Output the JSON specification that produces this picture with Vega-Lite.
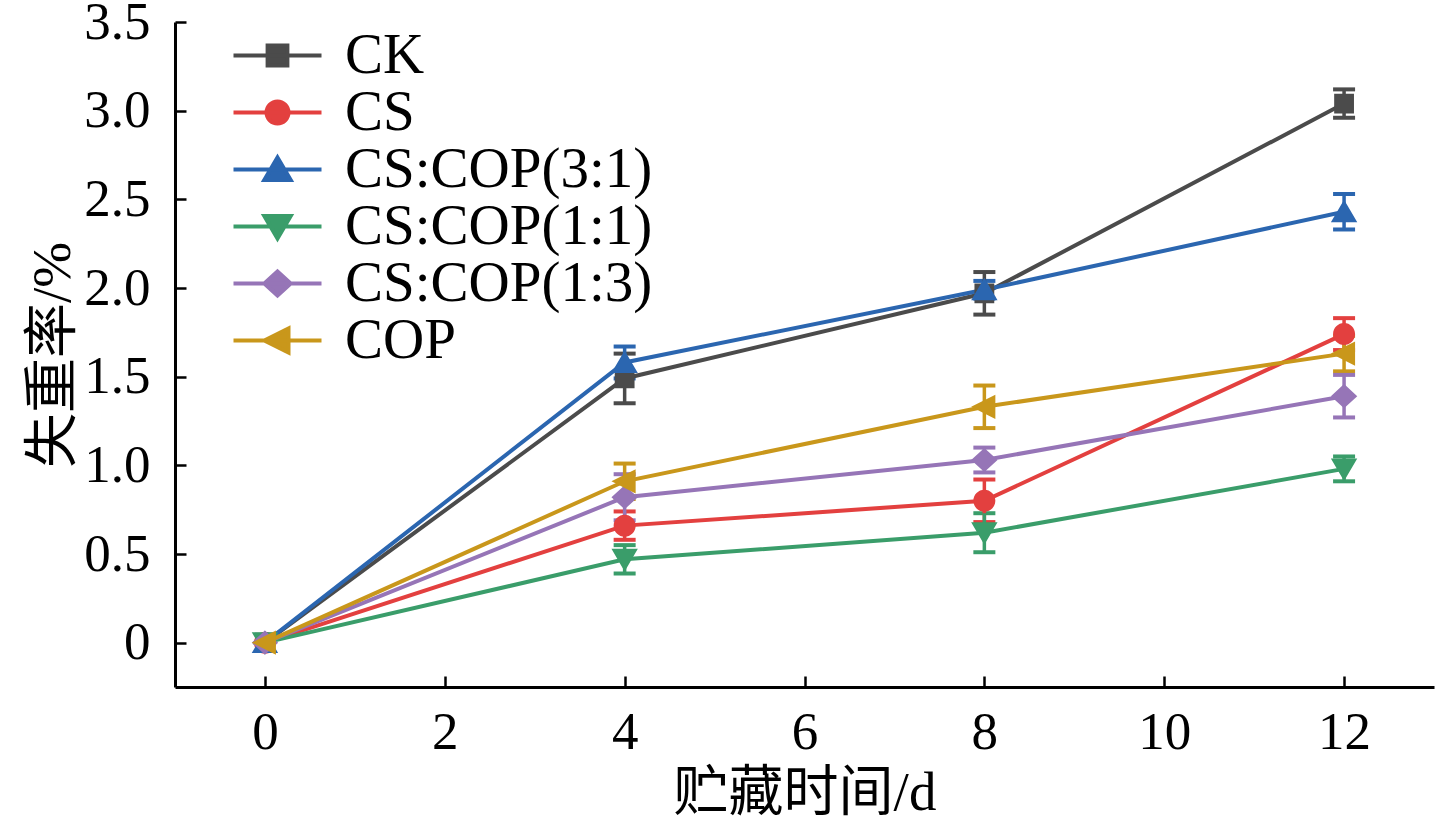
{
  "$schema": "https://vega.github.io/schema/vega-lite/v6.json",
  "width": 1259,
  "height": 665,
  "autosize": "none",
  "padding": {"left": 175, "top": 22, "right": 1, "bottom": 135},
  "background": "white",
  "config": {
    "view": {"stroke": null},
    "axis": {
      "grid": false,
      "domainColor": "black",
      "domainWidth": 3,
      "tickColor": "black",
      "tickWidth": 2.5,
      "tickSize": -11,
      "labelFont": "Liberation Serif",
      "labelFontSize": 53,
      "labelColor": "black",
      "titleFont": "Liberation Serif, Noto Sans CJK SC",
      "titleFontSize": 55,
      "titleFontWeight": "normal",
      "titleColor": "black"
    },
    "legend": {
      "orient": "top-left",
      "offset": 5,
      "padding": 0,
      "symbolOffset": 69,
      "symbolSize": 484,
      "symbolStrokeWidth": 4,
      "labelFont": "Liberation Serif",
      "labelFontSize": 57,
      "labelColor": "black",
      "labelOffset": 39,
      "labelLimit": 0,
      "rowPadding": -3
    }
  },
  "data": {
    "values": [
      {"day": 0, "series": "CK", "y": 0, "err": 0},
      {"day": 4, "series": "CK", "y": 1.49, "err": 0.14},
      {"day": 8, "series": "CK", "y": 1.97, "err": 0.12},
      {"day": 12, "series": "CK", "y": 3.04, "err": 0.08},
      {"day": 0, "series": "CS", "y": 0, "err": 0},
      {"day": 4, "series": "CS", "y": 0.66, "err": 0.08},
      {"day": 8, "series": "CS", "y": 0.8, "err": 0.12},
      {"day": 12, "series": "CS", "y": 1.74, "err": 0.09},
      {"day": 0, "series": "CS:COP(3:1)", "y": 0, "err": 0},
      {"day": 4, "series": "CS:COP(3:1)", "y": 1.58, "err": 0.09},
      {"day": 8, "series": "CS:COP(3:1)", "y": 1.99, "err": 0.05},
      {"day": 12, "series": "CS:COP(3:1)", "y": 2.43, "err": 0.1},
      {"day": 0, "series": "CS:COP(1:1)", "y": 0, "err": 0},
      {"day": 4, "series": "CS:COP(1:1)", "y": 0.47, "err": 0.08},
      {"day": 8, "series": "CS:COP(1:1)", "y": 0.62, "err": 0.11},
      {"day": 12, "series": "CS:COP(1:1)", "y": 0.98, "err": 0.07},
      {"day": 0, "series": "CS:COP(1:3)", "y": 0, "err": 0},
      {"day": 4, "series": "CS:COP(1:3)", "y": 0.82, "err": 0.13},
      {"day": 8, "series": "CS:COP(1:3)", "y": 1.03, "err": 0.07},
      {"day": 12, "series": "CS:COP(1:3)", "y": 1.39, "err": 0.12},
      {"day": 0, "series": "COP", "y": 0, "err": 0},
      {"day": 4, "series": "COP", "y": 0.91, "err": 0.1},
      {"day": 8, "series": "COP", "y": 1.33, "err": 0.12},
      {"day": 12, "series": "COP", "y": 1.63, "err": 0.1}
    ]
  },
  "encoding": {
    "x": {
      "field": "day",
      "type": "quantitative",
      "scale": {"domain": [-1, 13], "nice": false, "zero": false},
      "axis": {"values": [0, 2, 4, 6, 8, 10, 12], "title": "贮藏时间/d", "labelPadding": 30, "titlePadding": 7}
    },
    "y": {
      "field": "y",
      "type": "quantitative",
      "scale": {"domain": [-0.25, 3.5], "nice": false, "zero": false},
      "axis": {
        "values": [0, 0.5, 1, 1.5, 2, 2.5, 3, 3.5],
        "labelExpr": "datum.value == 0 ? '0' : format(datum.value, '.1f')",
        "title": "失重率/%",
        "labelPadding": 36,
        "titlePadding": 2
      }
    },
    "color": {
      "field": "series",
      "type": "nominal",
      "title": null,
      "scale": {
        "domain": ["CK", "CS", "CS:COP(3:1)", "CS:COP(1:1)", "CS:COP(1:3)", "COP"],
        "range": ["#4b4b4b", "#e3403f", "#2b66b0", "#3a9d6a", "#9675b7", "#c9971b"]
      }
    }
  },
  "layer": [
    {
      "mark": {"type": "errorbar", "opacity": 1, "thickness": 3.5, "ticks": {"size": 22, "thickness": 4, "opacity": 1}, "rule": {"strokeWidth": 3.5, "opacity": 1}},
      "encoding": {
        "yError": {"field": "err"}
      }
    },
    {
      "mark": {"type": "line", "strokeWidth": 4}
    },
    {
      "mark": {"type": "point", "filled": true, "size": 484, "opacity": 1},
      "encoding": {
        "shape": {
          "field": "series",
          "type": "nominal",
          "title": null,
          "scale": {
            "domain": ["CK", "CS", "CS:COP(3:1)", "CS:COP(1:1)", "CS:COP(1:3)", "COP"],
            "range": [
              "M-4,0H4M-0.9,-0.9H0.9V0.9H-0.9Z",
              "M-4,0H4M-1,0A1,1,0,1,0,1,0A1,1,0,1,0,-1,0Z",
              "M-4,0H4M0,-1.1L1.2,0.95H-1.2Z",
              "M-4,0H4M0,1.1L1.2,-0.95H-1.2Z",
              "M-4,0H4M0,-1.1L1.2,0L0,1.1L-1.2,0Z",
              "M-4,0H4M-1.2,0L1,-1.1V1.1Z"
            ]
          }
        }
      }
    }
  ]
}
